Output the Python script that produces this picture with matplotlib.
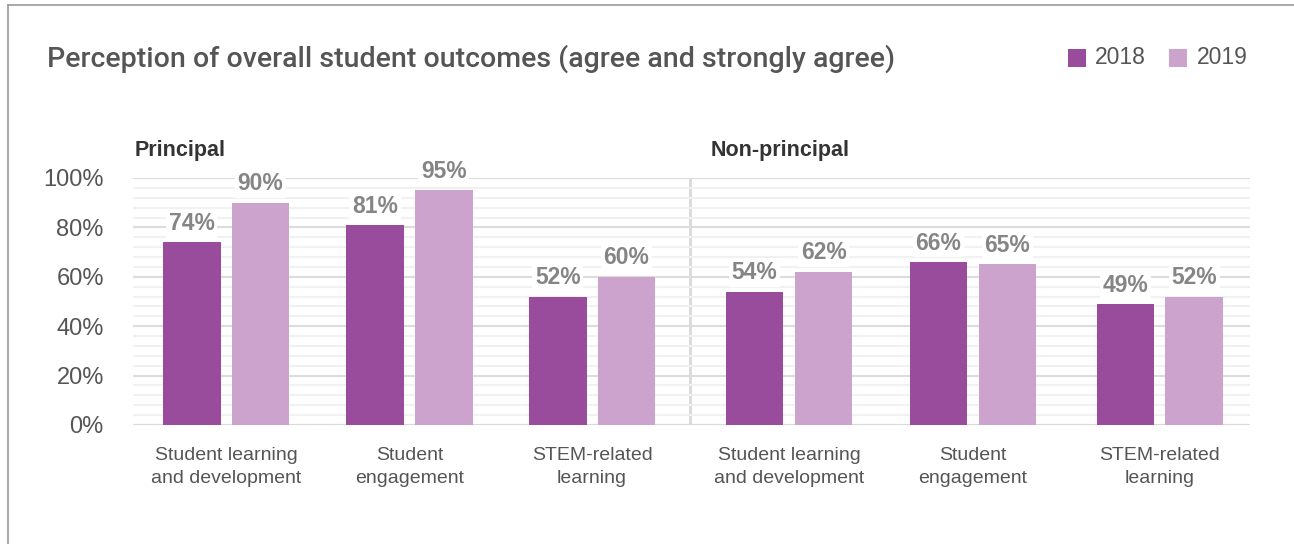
import numpy as np
import matplotlib.pyplot as plt
from matplotlib.lines import Line2D
from matplotlib.patches import Rectangle

plt.rcParams['font.family'] = ['Liberation Sans', 'DejaVu Sans']

# data
sections = ['Principal', 'Non-principal']
categories = ['Student learning\nand development', 'Student\nengagement', 'STEM-related\nlearning',
              'Student learning\nand development', 'Student\nengagement', 'STEM-related\nlearning']
vals_2018 = [74, 81, 52, 54, 66, 49]
vals_2019 = [90, 95, 60, 62, 65, 52]
years = ['2018', '2019']
colors = ['#994c9c', '#cba3cc']
text_col = '#555555'
label_col = '#858585'

# group positions (slightly uneven, as in the original layout)
x = np.array([0, 0.985, 1.966, 3.024, 4.012, 5.016])

fig = plt.figure(figsize=(12.94, 5.44), dpi=100)
ax = fig.add_axes([0.1028, 0.2188, 0.8632, 0.454])

w = 0.31
off = 0.185
for vals, col, dx in [(vals_2018, colors[0], -off), (vals_2019, colors[1], off)]:
    ax.bar(x + dx, vals, width=w, color=col, zorder=3)
    for xi, v in zip(x, vals):
        ax.text(xi + dx, v + 3, f'{v}%', ha='center', va='bottom', fontsize=16.5,
                fontweight='bold', color=label_col, zorder=4,
                bbox=dict(facecolor='white', edgecolor='none', pad=2))

ax.set_xlim(-0.5, 5.5)
ax.set_ylim(0, 100)
ax.set_yticks(np.arange(0, 101, 20))
ax.set_yticklabels([f'{t}%' for t in range(0, 101, 20)])
ax.set_yticks(np.arange(0, 101, 4), minor=True)
ax.grid(axis='y', which='major', color='#dcdcdc', linewidth=1.5, zorder=0)
ax.grid(axis='y', which='minor', color='#f1f1f1', linewidth=1.5, zorder=0)
ax.set_xticks(x)
ax.set_xticklabels(categories, fontsize=14, color=text_col, linespacing=1.45)
ax.tick_params(axis='x', length=0, pad=16)
ax.tick_params(axis='y', which='both', length=0, labelsize=17, labelcolor=text_col, pad=21)
for s in ax.spines.values():
    s.set_visible(False)
ax.axvline(2.49, color='#d9d9d9', linewidth=2, zorder=1)
ax.axhline(0, color='#d9d9d9', linewidth=1.5, zorder=2)

# section labels
ax.text(-0.49, 107, sections[0], fontsize=15.5, fontweight='bold', color='#333333', va='bottom', ha='left')
ax.text(2.6, 107, sections[1], fontsize=15.5, fontweight='bold', color='#333333', va='bottom', ha='left')

# title
fig.text(47 / 1294, 1 - 59 / 544, 'Perception of overall student outcomes (agree and strongly agree)',
         fontsize=20.5, color=text_col, va='center', ha='left', fontweight='medium',
         family=['Roboto', 'DejaVu Sans'])

# legend
for lx, tx, col, yr in [(1068, 1095, colors[0], years[0]), (1169, 1197, colors[1], years[1])]:
    fig.add_artist(Rectangle((lx / 1294, 1 - 67 / 544), 18 / 1294, 18 / 544,
                             transform=fig.transFigure, facecolor=col, edgecolor='none'))
    fig.text(tx / 1294, 1 - 58 / 544, yr, fontsize=16.5, color=text_col, va='center', ha='left')

# frame lines
fig.add_artist(Line2D([8 / 1294, 1], [1 - 5 / 544] * 2, transform=fig.transFigure, color='#9a9a9a', lw=1.2))
fig.add_artist(Line2D([8 / 1294] * 2, [0, 1 - 5 / 544], transform=fig.transFigure, color='#9a9a9a', lw=1.2))

fig.savefig('out.png', dpi=100)
